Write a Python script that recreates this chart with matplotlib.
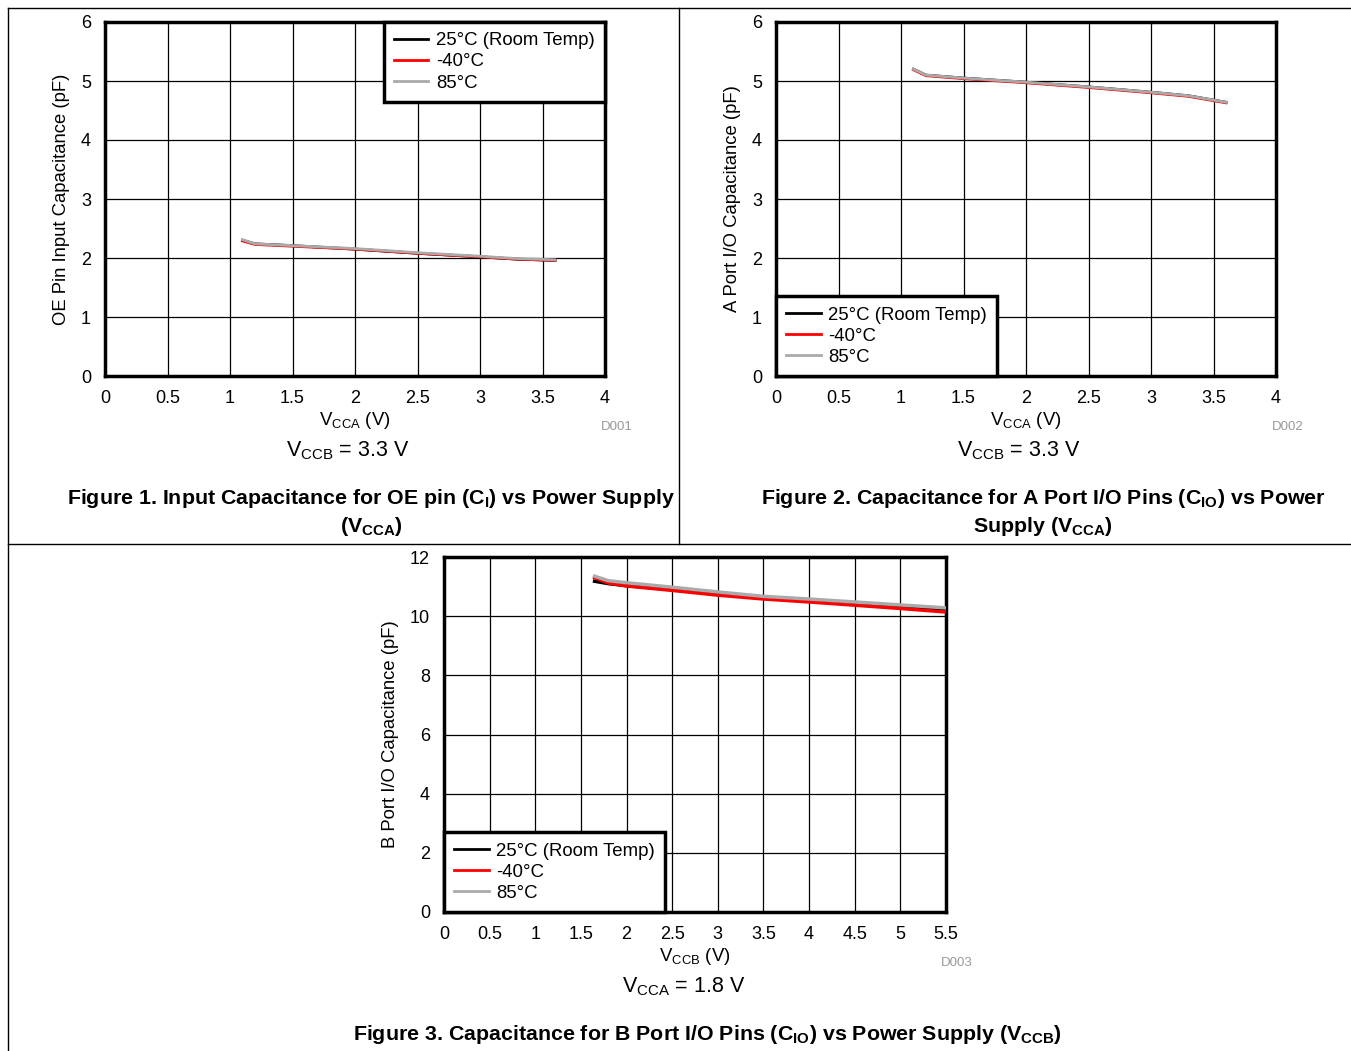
import matplotlib
matplotlib.use("Agg")
import matplotlib.pyplot as plt
from matplotlib.lines import Line2D

plt.rcParams['font.family'] = ['Liberation Sans', 'DejaVu Sans']
plt.rcParams['mathtext.fontset'] = 'custom'
plt.rcParams['mathtext.rm'] = 'Liberation Sans'
plt.rcParams['mathtext.bf'] = 'Liberation Sans:bold'

# Figure 1: OE pin input capacitance vs VCCA
f1_vcca = [1.1, 1.2, 1.5, 2.0, 2.5, 3.0, 3.3, 3.6]
f1_25c = [2.30, 2.24, 2.21, 2.15, 2.08, 2.02, 1.98, 1.96]
f1_m40c = [2.29, 2.23, 2.20, 2.15, 2.08, 2.02, 1.98, 1.96]
f1_85c = [2.31, 2.24, 2.21, 2.16, 2.09, 2.03, 1.99, 1.97]

# Figure 2: A port I/O capacitance vs VCCA
f2_vcca = [1.1, 1.2, 1.5, 2.0, 2.5, 3.0, 3.3, 3.6]
f2_25c = [5.20, 5.10, 5.05, 4.98, 4.90, 4.81, 4.75, 4.64]
f2_m40c = [5.19, 5.09, 5.04, 4.97, 4.89, 4.80, 4.74, 4.63]
f2_85c = [5.20, 5.10, 5.05, 4.98, 4.90, 4.81, 4.75, 4.64]

# Figure 3: B port I/O capacitance vs VCCB
f3_vccb = [1.65, 1.8, 2.0, 2.5, 3.0, 3.5, 4.0, 4.5, 5.0, 5.5]
f3_25c = [11.18, 11.10, 11.03, 10.90, 10.75, 10.62, 10.53, 10.43, 10.33, 10.24]
f3_m40c = [11.30, 11.12, 11.02, 10.87, 10.71, 10.58, 10.48, 10.37, 10.26, 10.14]
f3_85c = [11.35, 11.20, 11.13, 10.98, 10.82, 10.67, 10.58, 10.48, 10.38, 10.28]

labels = ['25°C (Room Temp)', '-40°C', '85°C']
colors = ['black', 'red', '#aaaaaa']

W, H = 1351, 1051
fig = plt.figure(figsize=(W / 100, H / 100), dpi=100)


def px_axes(x0, y0, x1, y1):
    return fig.add_axes([x0 / W, 1 - y1 / H, (x1 - x0) / W, (y1 - y0) / H])


def style(ax, xlim, xticks, xticklabels, ylim, yticks, ylabel, xlabel):
    ax.set_xlim(xlim)
    ax.set_ylim(ylim)
    ax.set_xticks(xticks)
    ax.set_xticklabels(xticklabels)
    ax.set_yticks(yticks)
    ax.grid(True, color='black', linewidth=0.9)
    ax.tick_params(length=0, labelsize=13, pad=10)
    for s in ax.spines.values():
        s.set_linewidth(2.5)
    ax.set_ylabel(ylabel, fontsize=13.3, labelpad=8)
    ax.set_xlabel(xlabel, fontsize=13.4, labelpad=2)


def plot_series(ax, x, ys, lw):
    ax.plot(x, ys[0], color=colors[0], lw=lw, zorder=3)
    ax.plot(x, ys[1], color=colors[1], lw=lw, zorder=4)
    ax.plot(x, ys[2], color=colors[2], lw=lw, zorder=5)


def legend(ax, loc):
    handles = [Line2D([], [], color=c, lw=2) for c in colors]
    lg = ax.legend(handles, labels, loc=loc, fontsize=13.4, fancybox=False,
                   framealpha=1, edgecolor='black', borderaxespad=0,
                   handlelength=1.85, handletextpad=0.42, labelspacing=0.22,
                   borderpad=0.55)
    lg.get_frame().set_linewidth(2.5)
    lg.set_zorder(10)


xt4 = [0, 0.5, 1, 1.5, 2, 2.5, 3, 3.5, 4]
xl4 = ['0', '0.5', '1', '1.5', '2', '2.5', '3', '3.5', '4']

ax1 = px_axes(105, 22, 605, 376)
plot_series(ax1, f1_vcca, [f1_25c, f1_m40c, f1_85c], 2)
style(ax1, (0, 4), xt4, xl4, (0, 6), range(7), 'OE Pin Input Capacitance (pF)',
      r'$\mathregular{V_{CCA}}$ (V)')
legend(ax1, 'upper right')

ax2 = px_axes(776, 22, 1276, 376)
plot_series(ax2, f2_vcca, [f2_25c, f2_m40c, f2_85c], 2)
style(ax2, (0, 4), xt4, xl4, (0, 6), range(7), 'A Port I/O Capacitance (pF)',
      r'$\mathregular{V_{CCA}}$ (V)')
legend(ax2, 'lower left')

xt3 = [0, 0.5, 1, 1.5, 2, 2.5, 3, 3.5, 4, 4.5, 5, 5.5]
xl3 = ['0', '0.5', '1', '1.5', '2', '2.5', '3', '3.5', '4', '4.5', '5', '5.5']
ax3 = px_axes(444, 557, 946, 912)
plot_series(ax3, f3_vccb, [f3_25c, f3_m40c, f3_85c], 2.5)
style(ax3, (0, 5.5), xt3, xl3, (0, 12), range(0, 13, 2), 'B Port I/O Capacitance (pF)',
      r'$\mathregular{V_{CCB}}$ (V)')
legend(ax3, 'lower left')


def txt(x, y, s, **kw):
    fig.text(x / W, 1 - y / H, s, ha='center', va='center', **kw)


# diagram codes
txt(617, 427, 'D001', fontsize=9.5, color='#999999')
txt(1288, 427, 'D002', fontsize=9.5, color='#999999')
txt(957, 963, 'D003', fontsize=9.5, color='#999999')

# condition captions
txt(348, 451, r'$\mathregular{V_{CCB}}$ = 3.3 V', fontsize=15.5)
txt(1019, 451, r'$\mathregular{V_{CCB}}$ = 3.3 V', fontsize=15.5)
txt(684, 987, r'$\mathregular{V_{CCA}}$ = 1.8 V', fontsize=15.5)

# figure titles
tkw = dict(fontsize=15.4, fontweight='bold')
txt(371, 498, r'Figure 1. Input Capacitance for OE pin (C$_\mathbf{I}$) vs Power Supply', **tkw)
txt(371, 526, r'($\mathbf{V_{CCA}}$)', **tkw)
txt(1043, 498, r'Figure 2. Capacitance for A Port I/O Pins (C$_\mathbf{IO}$) vs Power', **tkw)
txt(1043, 526, r'Supply ($\mathbf{V_{CCA}}$)', **tkw)
txt(707, 1034, r'Figure 3. Capacitance for B Port I/O Pins (C$_\mathbf{IO}$) vs Power Supply ($\mathbf{V_{CCB}}$)', **tkw)

# table frame lines
lkw = dict(color='black', linewidth=1, transform=fig.transFigure)
fig.add_artist(Line2D([8 / W, 1], [1 - 8 / H, 1 - 8 / H], **lkw))
fig.add_artist(Line2D([8 / W, 1], [1 - 544 / H, 1 - 544 / H], **lkw))
fig.add_artist(Line2D([8 / W, 8 / W], [0, 1 - 8 / H], **lkw))
fig.add_artist(Line2D([679 / W, 679 / W], [1 - 544 / H, 1 - 8 / H], **lkw))

fig.savefig('out.png', dpi=100)
